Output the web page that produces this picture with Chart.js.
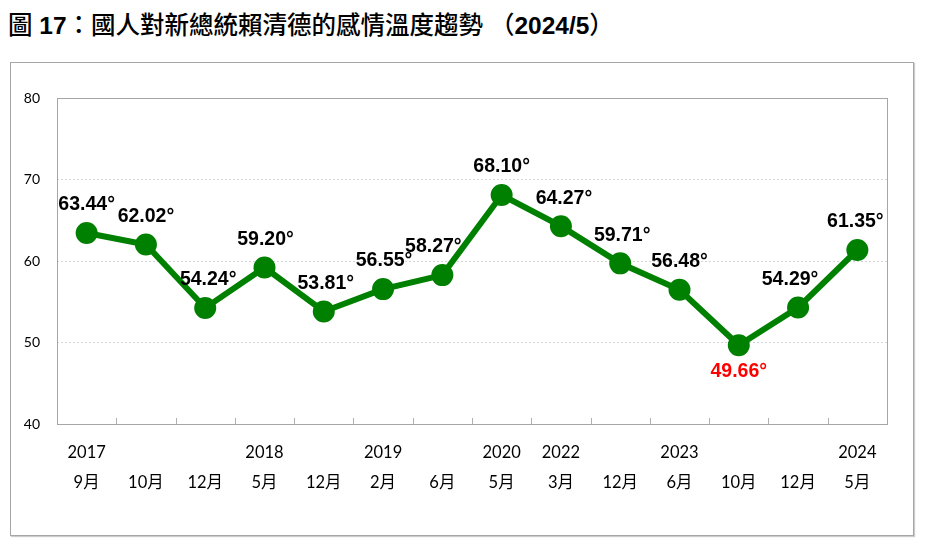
<!DOCTYPE html>
<html><head><meta charset="utf-8">
<script src="https://cdn.jsdelivr.net/npm/chart.js@4.4.1/dist/chart.umd.min.js"></script>
<style>
html,body{margin:0;padding:0;background:#fff;width:925px;height:547px;overflow:hidden}
#title{position:absolute;left:8px;top:6px;font:24.5px "Liberation Sans","Noto Sans CJK TC",sans-serif;color:#000;white-space:nowrap}
#title b{font-weight:bold}
#title span{font-family:"Noto Sans CJK TC",sans-serif;font-weight:500}
#box{position:absolute;left:10px;top:62px;width:902px;height:472px;border:1.5px solid #a6a6a6;box-shadow:1px 1px 1px #ccc}
#wrap{position:absolute;left:0;top:0;width:925px;height:547px}
</style></head>
<body>
<div id="title"><span>圖</span> <b>17</b><span>：國人對新總統賴清德的感情溫度趨勢</span> <span>（</span><b>2024/5</b><span>）</span></div>
<div id="box"></div>
<div id="wrap"><canvas id="c" width="925" height="547"></canvas></div>
<script>
const years  = ['2017','','','2018','','2019','','2020','2022','','2023','','','2024'];
const months = ['9月','10月','12月','5月','12月','2月','6月','5月','3月','12月','6月','10月','12月','5月'];
const values = [63.44,62.02,54.24,59.20,53.81,56.55,58.27,68.10,64.27,59.71,56.48,49.66,54.29,61.35];
const yTicks = [40,50,60,70,80];
const labelShiftX = [0,0,3,1,2,1,-9,0,3,2,0,0,-8,-2];

const labels = years.map((y,i)=>[y,months[i]]);
const minIdx = values.indexOf(Math.min(...values));

const framePlugin = {
  id:'frame',
  beforeDatasetsDraw(chart){
    const {ctx, chartArea:a, scales:{x}} = chart;
    ctx.save();
    ctx.strokeStyle='#a6a6a6'; ctx.lineWidth=1;
    ctx.strokeRect(Math.round(a.left)+0.5, Math.round(a.top)+0.5, Math.round(a.right-a.left), Math.round(a.bottom-a.top));
    ctx.strokeStyle='#b0b0b0';
    for(let i=1;i<values.length;i++){
      const px = Math.round((x.getPixelForValue(i-1)+x.getPixelForValue(i))/2)+0.5;
      ctx.beginPath(); ctx.moveTo(px, a.bottom); ctx.lineTo(px, a.bottom-6); ctx.stroke();
    }
    ctx.restore();
  },
  afterDatasetsDraw(chart){
    const {ctx} = chart;
    const meta = chart.getDatasetMeta(0);
    ctx.save();
    ctx.font='bold 19.5px "Liberation Sans", Arial, sans-serif';
    ctx.textAlign='center'; ctx.textBaseline='middle';
    meta.data.forEach((pt,i)=>{
      const low = i===minIdx;
      ctx.fillStyle = low ? '#ff0000' : '#000';
      const y = low ? pt.y+26 : pt.y-28;
      ctx.fillText(values[i].toFixed(2)+'°', pt.x+labelShiftX[i], y);
    });
    ctx.restore();
  }
};

new Chart(document.getElementById('c'),{
  type:'line',
  data:{labels, datasets:[{data:values, borderColor:'#008000', backgroundColor:'#008000',
    borderWidth:6, pointRadius:8, pointHoverRadius:8, pointBackgroundColor:'#008000', pointBorderColor:'#008000', tension:0}]},
  options:{
    responsive:false, animation:false,
    layout:{padding:{left:0,right:38,top:98,bottom:0}},
    plugins:{legend:{display:false}, tooltip:{enabled:false}},
    scales:{
      x:{offset:true,
        grid:{display:false},
        border:{display:false},
        ticks:{color:'#000', maxRotation:0, autoSkip:false, padding:6,
          font:{family:'Lato, "Noto Sans CJK TC", sans-serif', size:16.5, lineHeight:'30px'}},
        afterFit(s){ s.height = 123; }
      },
      y:{min:40,max:80,
        afterBuildTicks(s){ s.ticks = yTicks.map(v=>({value:v})); },
        grid:{color:(c)=> (c.tick && (c.tick.value===40||c.tick.value===80)) ? 'rgba(0,0,0,0)' : '#d4d4d4', drawTicks:false, lineWidth:1},
        border:{display:false, dash:[2,2]},
        ticks:{color:'#000', padding:17, font:{family:'Lato, "Noto Sans CJK TC", sans-serif', size:14}},
        afterFit(s){ s.width = 57; }
      }
    }
  },
  plugins:[framePlugin]
});
</script>
</body></html>
